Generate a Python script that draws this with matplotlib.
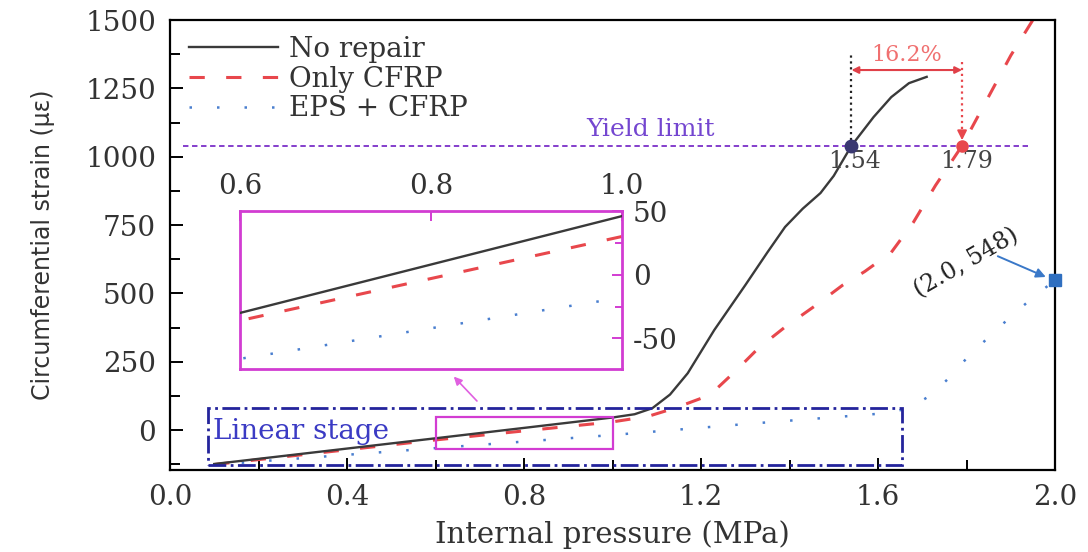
import matplotlib
matplotlib.use("Agg")
import matplotlib.pyplot as plt
from matplotlib.patches import Rectangle
from matplotlib.ticker import MultipleLocator, FormatStrFormatter

# data
p_norepair = [0.10, 0.60, 1.00, 1.05, 1.09, 1.13, 1.17, 1.23, 1.30, 1.35, 1.39, 1.43, 1.47, 1.50, 1.54, 1.59, 1.63, 1.67, 1.71]
s_norepair = [-124, -30, 46, 58, 80, 130, 208, 366, 530, 650, 743, 810, 867, 930, 1040, 1145, 1218, 1269, 1292]

p_cfrp = [0.10, 0.60, 1.00, 1.08, 1.14, 1.22, 1.28, 1.33, 1.39, 1.46, 1.52, 1.57, 1.63, 1.68, 1.73, 1.79, 1.85, 1.90, 1.95]
s_cfrp = [-126, -36, 30, 50, 80, 128, 219, 300, 377, 457, 530, 580, 650, 760, 895, 1040, 1220, 1370, 1500]

p_eps = [0.10, 0.60, 1.00, 1.30, 1.62, 1.67, 1.72, 1.76, 1.80, 1.85, 1.90, 1.95, 2.00]
s_eps = [-127, -66, -18, 22, 62, 80, 128, 190, 262, 340, 415, 485, 548]

yield_limit = 1040
p_yield_norepair = 1.54
p_yield_cfrp = 1.79
gain_text = "16.2%"
end_point = (2.0, 548)

serif = "DejaVu Serif"
plt.rcParams["font.family"] = serif
plt.rcParams["mathtext.fontset"] = "dejavuserif"
plt.rcParams["axes.unicode_minus"] = False

black = "#3a3a3a"
red = "#e8474c"
blue = "#4a7fcf"
purple = "#7b2fc8"
magenta = "#d23cd2"
navy = "#24249c"

fig = plt.figure(figsize=(10.88, 5.52), dpi=100)
ax = fig.add_axes([170 / 1088, 1 - 470 / 552, 885 / 1088, 450 / 552])

ln1, = ax.plot(p_norepair, s_norepair, color=black, lw=1.7, label="No repair", zorder=3)
ln2, = ax.plot(p_cfrp, s_cfrp, color=red, lw=2.2, linestyle=(0, (5, 7)), label="Only CFRP", zorder=2)
ln3, = ax.plot(p_eps, s_eps, color=blue, lw=1.8, linestyle=(0, (1, 10)), label="EPS + CFRP", zorder=2)

ax.set_xlim(0, 2.0)
ax.set_ylim(-146, 1500)
ax.xaxis.set_major_locator(MultipleLocator(0.4))
ax.xaxis.set_minor_locator(MultipleLocator(0.2))
ax.yaxis.set_major_locator(MultipleLocator(250))
ax.yaxis.set_minor_locator(MultipleLocator(125))
ax.xaxis.set_major_formatter(FormatStrFormatter("%.1f"))
ax.tick_params(which="both", direction="in", top=False, right=False, width=1.4,
               labelsize=20, labelcolor="#333333")
ax.tick_params(which="major", length=9)
ax.tick_params(which="minor", length=7)
ax.tick_params(axis="x", pad=10)
ax.tick_params(axis="y", pad=10)
for sp in ax.spines.values():
    sp.set_linewidth(1.6)

ax.set_xlabel("Internal pressure (MPa)", fontsize=21, color="#333333", labelpad=7)
ax.set_ylabel("Circumferential strain (με)", fontsize=17, color="#333333", labelpad=22,
              family=["Liberation Sans Narrow", "DejaVu Sans"])

ax.legend(handles=[ln1, ln2, ln3], loc="upper left", bbox_to_anchor=(0.022, 0.965),
          frameon=False, fontsize=20, handlelength=3.2, handletextpad=0.4,
          labelspacing=0.1, borderaxespad=0, borderpad=0, labelcolor="#333333")

# yield limit
ax.plot([0.03, 1.94], [yield_limit, yield_limit], color=purple, lw=1.3, linestyle=(0, (3, 2)))
ax.text(1.085, 1098, "Yield limit", color="#7446d0", fontsize=18, ha="center", va="center")

# markers at yield
ax.plot(p_yield_norepair, yield_limit, marker="o", ms=9, color="#3a3870", zorder=5)
ax.plot(p_yield_cfrp, yield_limit, marker="o", ms=8, color=red, zorder=5)
ax.text(1.548, 982, "1.54", fontsize=17, ha="center", va="center", color="#444444")
ax.text(1.80, 982, "1.79", fontsize=17, ha="center", va="center", color="#444444")

# 16.2 % bracket
ax.plot([p_yield_norepair, p_yield_norepair], [yield_limit, 1380], color="#222222", lw=1.6, linestyle=":")
ax.plot([p_yield_cfrp, p_yield_cfrp], [1345, 1090], color=red, lw=1.6, linestyle=":")
ax.annotate("", xy=(p_yield_cfrp, 1050), xytext=(p_yield_cfrp, 1100),
            arrowprops=dict(arrowstyle="-|>", color=red, lw=1.4, mutation_scale=14))
ax.annotate("", xy=(p_yield_cfrp, 1317), xytext=(p_yield_norepair, 1317),
            arrowprops=dict(arrowstyle="<|-|>", color="#e04048", lw=1.5, mutation_scale=10,
                            shrinkA=0, shrinkB=0))
ax.text(1.665, 1372, gain_text, color="#f07070", fontsize=16, ha="center", va="center")

# end point of EPS + CFRP
ax.plot(*end_point, marker="s", ms=8, color="#2f6fc0", clip_on=False, zorder=6)
ax.annotate("", xy=(1.985, 556), xytext=(1.865, 640),
            arrowprops=dict(arrowstyle="-|>", color="#3a78c8", lw=1.4, mutation_scale=14))
ax.text(1.80, 612, "(2.0, 548)", rotation=30, fontsize=17, ha="center", va="center",
        color="#222222", rotation_mode="anchor")

# linear stage box
ax.add_patch(Rectangle((0.085, -128), 1.57, 208, fill=False, ec=navy, lw=2.0,
                       linestyle="-.", zorder=4))
ax.text(0.097, -5, "Linear stage", color="#3b3bc4", fontsize=20, ha="left", va="center")

# zoom box and arrow
ax.add_patch(Rectangle((0.6, -70), 0.4, 118, fill=False, ec=magenta, lw=1.6, zorder=4))
ax.annotate("", xy=(0.637, 203), xytext=(0.698, 99),
            arrowprops=dict(arrowstyle="-|>", color="#e060e0", lw=1.2, mutation_scale=12))

# inset
ins = fig.add_axes([240 / 1088, 1 - 369 / 552, 382 / 1088, 158 / 552])
ins.plot(p_norepair, s_norepair, color=black, lw=1.7, zorder=3)
ins.plot(p_cfrp, s_cfrp, color=red, lw=2.2, linestyle=(0, (5, 7)))
ins.plot(p_eps, s_eps, color=blue, lw=1.8, linestyle=(0, (1, 10)))
ins.set_xlim(0.6, 1.0)
ins.set_ylim(-74, 50)
ins.set_xticks([0.6, 0.8, 1.0])
ins.set_yticks([-50, 0, 50])
ins.yaxis.set_minor_locator(MultipleLocator(25))
ins.xaxis.set_major_formatter(FormatStrFormatter("%.1f"))
ins.tick_params(which="both", direction="in", bottom=False, left=False, top=True, right=True,
                labelbottom=False, labelleft=False, labeltop=True, labelright=True,
                labelsize=20, labelcolor="#333333", color=magenta, width=1.4)
ins.tick_params(which="major", length=7, pad=8)
ins.tick_params(which="minor", length=5)
for sp in ins.spines.values():
    sp.set_color(magenta)
    sp.set_linewidth(2.0)

fig.savefig("out.png", dpi=100)
